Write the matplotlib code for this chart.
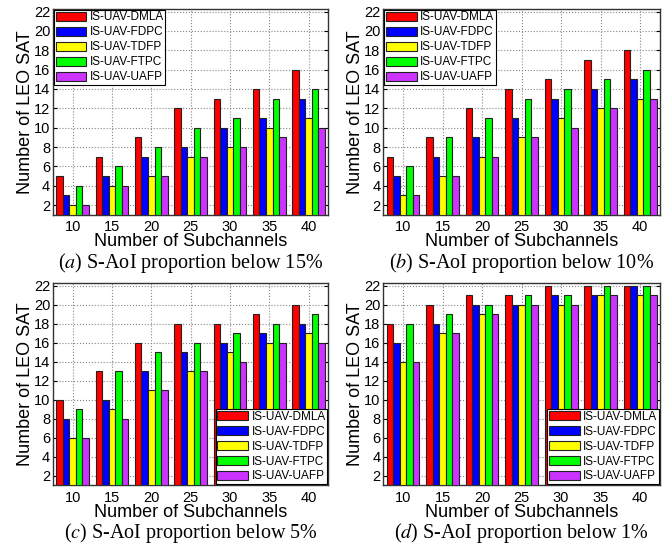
import numpy as np
import matplotlib
matplotlib.use('Agg')
from matplotlib import pyplot as plt

# subchannel counts on the x axis
subchannels = [10, 15, 20, 25, 30, 35, 40]
methods = ['IS-UAV-DMLA', 'IS-UAV-FDPC', 'IS-UAV-TDFP', 'IS-UAV-FTPC', 'IS-UAV-UAFP']
colors = ['#ff0000', '#0000ff', '#ffff00', '#00ff00', '#cc33ff']

# (a) S-AoI below 15%
dmla_a = [5, 7, 9, 12, 13, 14, 16]
fdpc_a = [3, 5, 7, 8, 10, 11, 13]
tdfp_a = [2, 4, 5, 7, 8, 10, 11]
ftpc_a = [4, 6, 8, 10, 11, 13, 14]
uafp_a = [2, 4, 5, 7, 8, 9, 10]

# (b) S-AoI below 10%
dmla_b = [7, 9, 12, 14, 15, 17, 18]
fdpc_b = [5, 7, 9, 11, 13, 14, 15]
tdfp_b = [3, 5, 7, 9, 11, 12, 13]
ftpc_b = [6, 9, 11, 13, 14, 15, 16]
uafp_b = [3, 5, 7, 9, 10, 12, 13]

# (c) S-AoI below 5%
dmla_c = [10, 13, 16, 18, 18, 19, 20]
fdpc_c = [8, 10, 13, 15, 16, 17, 18]
tdfp_c = [6, 9, 11, 13, 15, 16, 17]
ftpc_c = [9, 13, 15, 16, 17, 18, 19]
uafp_c = [6, 8, 11, 13, 14, 16, 16]

# (d) S-AoI below 1%
dmla_d = [18, 20, 21, 21, 22, 22, 22]
fdpc_d = [16, 18, 20, 20, 21, 21, 22]
tdfp_d = [14, 17, 19, 20, 20, 21, 21]
ftpc_d = [18, 19, 20, 21, 21, 22, 22]
uafp_d = [14, 17, 19, 20, 20, 21, 21]

panels = [
    ('a', '15%', [dmla_a, fdpc_a, tdfp_a, ftpc_a, uafp_a], 'upper left'),
    ('b', '10%', [dmla_b, fdpc_b, tdfp_b, ftpc_b, uafp_b], 'upper left'),
    ('c', '5%', [dmla_c, fdpc_c, tdfp_c, ftpc_c, uafp_c], 'lower right'),
    ('d', '1%', [dmla_d, fdpc_d, tdfp_d, ftpc_d, uafp_d], 'lower right'),
]

# axes boxes in figure fraction [left, bottom, width, height]
boxes = [
    [0.079, 0.606, 0.411, 0.378],
    [0.572, 0.606, 0.413, 0.378],
    [0.079, 0.110, 0.411, 0.371],
    [0.572, 0.110, 0.413, 0.371],
]

plt.rcParams['font.family'] = ['Liberation Sans', 'DejaVu Sans']

fig = plt.figure(figsize=(6.7, 5.45), dpi=100)

x = np.arange(1, len(subchannels) + 1)
w = 0.166
base = 1

for (tag, pct, series, loc), box in zip(panels, boxes):
    ax = fig.add_axes(box)
    for i, (vals, c, name) in enumerate(zip(series, colors, methods)):
        heights = np.array(vals) - base
        ax.bar(x + (i - 2) * w, heights, w, bottom=base, color=c,
               edgecolor='#222222', linewidth=0.8, label=name, zorder=3)

    ax.set_xlim(0.5, 7.5)
    ax.set_ylim(1, 22.3)
    ax.set_xticks(x)
    ax.set_xticklabels(subchannels)
    ax.set_yticks(range(2, 23, 2))
    ax.tick_params(direction='in', labelsize=10.5, length=3, right=True,
                   top=False)
    ax.tick_params(axis='x', pad=4)
    ax.tick_params(axis='y', pad=2)
    ax.grid(True, linestyle=':', color='#888888', linewidth=0.8, zorder=0)
    for s in ax.spines.values():
        s.set_linewidth(1.0)
        s.set_color('#333333')

    cx = box[0] + box[2] / 2

    # x label sits a fixed 27 px under each panel
    ax.set_xlabel('Number of Subchannels', fontsize=13, va='center')
    ax.xaxis.set_label_coords(cx, box[1] - 27 / 545, transform=fig.transFigure)
    ax.set_ylabel('Number of LEO SAT', fontsize=13, labelpad=0)

    leg = ax.legend(loc=loc, fontsize=8.5, frameon=True, fancybox=False,
                    borderpad=0.12, handlelength=2.6, handleheight=0.8,
                    handletextpad=0.3, labelspacing=0.25, borderaxespad=0.1,
                    framealpha=1)
    leg.get_frame().set_edgecolor('black')
    leg.get_frame().set_linewidth(0.8)

    # caption under the panel
    cy = box[1] - 0.088
    fig.text(cx, cy, '($\\it{%s}$) S-AoI proportion below %s' % (tag, pct),
             ha='center', va='center', fontsize=14.5,
             family='Liberation Serif', math_fontfamily='stix')

fig.savefig('out.png', dpi=100)
